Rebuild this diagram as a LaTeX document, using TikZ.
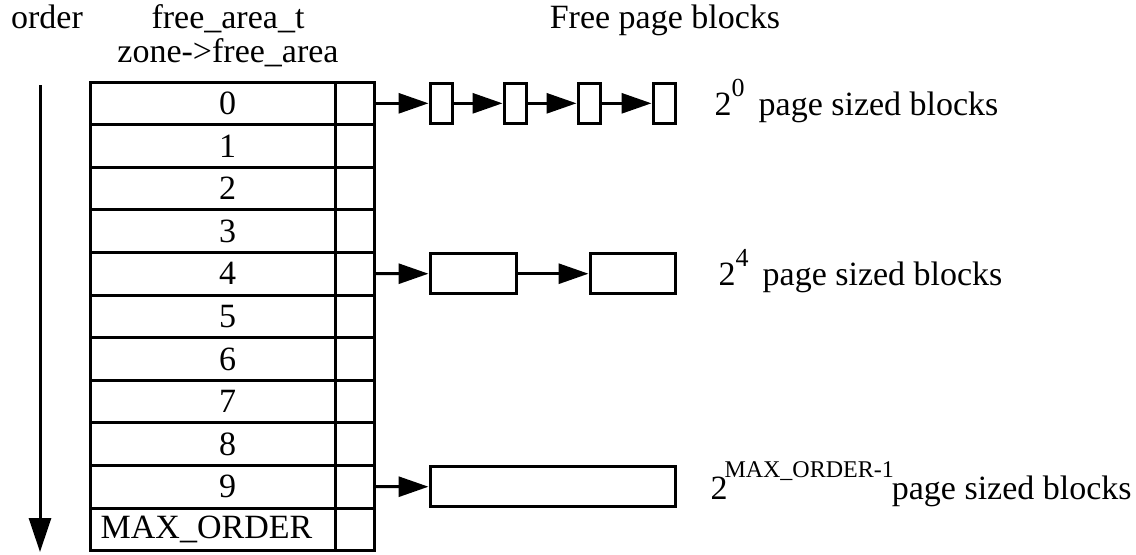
\documentclass[tikz,border=0pt]{standalone}
\usepackage{fontspec}
\setmainfont{Liberation Serif}
\usetikzlibrary{arrows.meta}

\begin{document}
\begin{tikzpicture}[x=0.5pt, y=-0.5pt, line width=1.5pt,
    every node/.style={font=\fontsize{17}{20}\selectfont, inner sep=0pt},
    cell/.style={draw, minimum width=122.5pt, minimum height=21.3pt},
    ptr/.style={draw, minimum width=19.5pt, minimum height=21.3pt},
    blk/.style={draw, minimum height=20pt},
    link/.style={-{Triangle[length=15pt, width=10pt]}}]
    \useasboundingbox (0,0) rectangle (1136,554);

    \node (order) at (47,28) [anchor=base] {order};
    \node (ftype) at (228,28) [anchor=base] {free\_area\_t};
    \node (fname) at (228,62) [anchor=base] {zone->free\_area};
    \node (title) at (665,28) [anchor=base] {Free page blocks};

    % order axis
    \coordinate (otop) at (40,85);
    \coordinate (obot) at (40,552);
    \draw[-{Triangle[length=17pt, width=11pt]}] (otop) -- (obot);

    % free_area array
    \foreach \i/\t/\dx in {0/0/7.5,1/1/7.5,2/2/7.5,3/3/7.5,4/4/7.5,5/5/7.5,6/6/7.5,7/7/7.5,8/8/7.5,9/9/7.5,10/MAX\_ORDER/-3} {
        \node (r\i) [cell, label={[xshift=\dx pt]center:\t}] at (212.5, 103.3+42.6*\i) {};
        \node (p\i) [ptr] at (354.5, 103.3+42.6*\i) {};
    }

    % order 0
    \node (b01) [blk, minimum width=11pt] at (441,103.3) {};
    \node (b02) [blk, minimum width=11pt] at (515,103.3) {};
    \node (b03) [blk, minimum width=11pt] at (589,103.3) {};
    \node (b04) [blk, minimum width=11pt] at (664,103.3) {};
    \draw[link] (p0.east) -- (b01.west);
    \draw[link] (b01) -- (b02);
    \draw[link] (b02) -- (b03);
    \draw[link] (b03) -- (b04);
    \node (l0) at (713,115) [anchor=base west] {2\raisebox{1.2ex}{\fontsize{13}{15}\selectfont 0}\, page sized blocks};

    % order 4
    \node (b41) [blk, minimum width=43pt] at (473,273.7) {};
    \node (b42) [blk, minimum width=42.5pt] at (632.5,273.7) {};
    \draw[link] (p4.east) -- (b41.west);
    \draw[link] (b41) -- (b42);
    \node (l4) at (717,285) [anchor=base west] {2\raisebox{1.2ex}{\fontsize{13}{15}\selectfont 4}\, page sized blocks};

    % order 9
    \node (b91) [blk, minimum width=122.5pt] at (552.5,486.7) {};
    \draw[link] (p9.east) -- (b91.west);
    \node (l9) at (709,499) [anchor=base west] {2\hspace{-1.5pt}\raisebox{1.4ex}{\fontsize{12}{14}\selectfont MAX\_ORDER-1}\hspace{-1pt}page sized blocks};
\end{tikzpicture}
\end{document}
